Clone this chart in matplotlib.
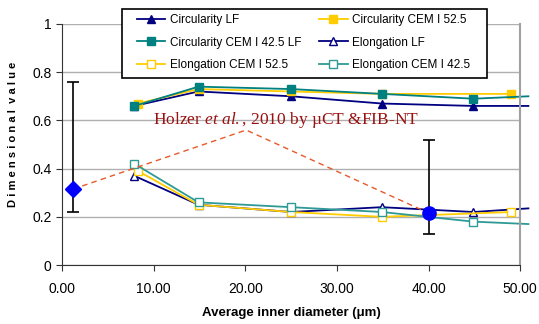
import matplotlib
matplotlib.use("Agg")
import matplotlib.pyplot as plt
from matplotlib.patches import Rectangle
from matplotlib.ticker import FormatStrFormatter

plt.rcParams["mathtext.fontset"] = "custom"
plt.rcParams["mathtext.rm"] = "Liberation Serif"
plt.rcParams["mathtext.it"] = "Liberation Serif:italic"

# Data (x = average inner diameter in um)
x_lf = [7.9, 14.9, 25.0, 34.9, 44.9, 50.9]
circ_lf = [0.66, 0.72, 0.70, 0.67, 0.66, 0.66]
elong_lf = [0.37, 0.25, 0.22, 0.24, 0.22, 0.235]

x_425 = [7.9, 14.9, 25.0, 34.9, 44.9, 50.9]
circ_425 = [0.66, 0.74, 0.73, 0.71, 0.69, 0.70]
elong_425 = [0.42, 0.26, 0.24, 0.22, 0.18, 0.17]

x_525 = [8.3, 14.9, 25.0, 34.9, 49.0]
circ_525 = [0.67, 0.73, 0.72, 0.71, 0.71]
elong_525 = [0.39, 0.25, 0.22, 0.20, 0.22]

# Holzer et al. reference points
holzer_x = [1.2, 40.0]
holzer_y = [0.315, 0.216]
holzer_lo = [0.22, 0.13]
holzer_hi = [0.76, 0.52]
trend_x = [1.2, 20.1, 40.0]
trend_y = [0.315, 0.56, 0.216]

navy = "#000080"
teal = "#008080"
teal2 = "#2e9a96"
gold = "#ffcc00"

fig = plt.figure(figsize=(5.39, 3.24), dpi=100)
ax = fig.add_axes([0.115, 0.182, 0.85, 0.744])

ax.set_xlim(0, 50)
ax.set_ylim(0, 1)
ax.yaxis.grid(True, color="#b0b0b0", lw=1)
ax.set_axisbelow(True)
ax.spines["top"].set_visible(False)
ax.spines["right"].set_color("#a0a0a0")
ax.spines["right"].set_linewidth(1.5)
ax.spines["left"].set_color("#333333")
ax.spines["bottom"].set_color("#333333")

ms = 5.5
lw = 1.3
cut = slice(0, 5)
l1, = ax.plot(x_lf, circ_lf, color=navy, lw=lw, marker="^", ms=ms, mfc=navy, mec=navy,
              markevery=cut, clip_on=False, label="Circularity LF")
l2, = ax.plot(x_525, circ_525, color=gold, lw=lw, marker="s", ms=ms, mfc=gold, mec=gold,
              clip_on=False, label="Circularity CEM I 52.5")
l3, = ax.plot(x_425, circ_425, color=teal, lw=lw, marker="s", ms=ms, mfc=teal, mec=teal,
              markevery=cut, clip_on=False, label="Circularity CEM I 42.5 LF")
l4, = ax.plot(x_lf, elong_lf, color=navy, lw=lw, marker="^", ms=ms, mfc="white", mec=navy,
              markevery=cut, clip_on=False, label="Elongation LF")
l5, = ax.plot(x_525, elong_525, color=gold, lw=lw, marker="s", ms=ms, mfc="white", mec=gold,
              clip_on=False, label="Elongation CEM I 52.5")
l6, = ax.plot(x_425, elong_425, color=teal2, lw=lw, marker="s", ms=ms, mfc="white", mec=teal2,
              markevery=cut, clip_on=False, label="Elongation CEM I 42.5")

# Holzer trend and points
ax.plot(trend_x, trend_y, color="#e8582a", lw=1, ls=(0, (4, 3)))
for xv, yv, lo, hi, mk, sz in zip(holzer_x, holzer_y, holzer_lo, holzer_hi, ["D", "o"], [8.5, 9.5]):
    ax.errorbar([xv], [yv], yerr=[[yv - lo], [hi - yv]], fmt="none", ecolor="black",
                elinewidth=1.2, capsize=4, capthick=1.2)
    ax.plot([xv], [yv], marker=mk, ms=sz, color="#0000ff", mec="#0000ff", zorder=5)

ax.text(9.9, 0.60, "Holzer $\\mathit{et\\ al.}$, 2010 by \u00b5CT &FIB-NT", color="#991111",
        fontsize=12.5, family="Liberation Serif", va="center", ha="left")

ax.set_xticks([0, 10, 20, 30, 40, 50])
ax.set_yticks([0, 0.2, 0.4, 0.6, 0.8, 1.0])
ax.set_yticklabels(["0", "0.2", "0.4", "0.6", "0.8", "1"])
ax.xaxis.set_major_formatter(FormatStrFormatter("%.2f"))
ax.tick_params(labelsize=10, direction="out", length=4, color="#333333")
ax.tick_params(axis="x", pad=8)
for t in ax.get_xticklabels() + ax.get_yticklabels():
    t.set_family("Liberation Sans")

ax.set_xlabel("Average inner diameter (\u03bcm)", fontsize=9.5, fontweight="bold",
              family="Liberation Sans", labelpad=8)
ax.set_ylabel("D i m e n s i o n a l  v a l u e", fontsize=8, fontweight="bold",
              family="Liberation Sans")
ax.yaxis.set_label_coords(-0.096, 0.54)

# legend box drawn at the reference's place, entries on top of it
W, H = 539.0, 324.0
fig.patches.append(Rectangle((122 / W, (H - 78) / H), 365 / W, 69 / H, transform=fig.transFigure,
                             facecolor="white", edgecolor="black", lw=1.2, zorder=2))
leg = fig.legend(handles=[l1, l3, l5, l2, l4, l6], ncol=2, loc="upper left",
                 bbox_to_anchor=(137 / W, (H - 14) / H), frameon=False,
                 prop={"family": "Liberation Sans", "size": 8.5}, handlelength=2.4,
                 handletextpad=0.4, columnspacing=1.5, borderpad=0, borderaxespad=0,
                 labelspacing=0.9)
leg.set_zorder(3)

fig.savefig("out.png", dpi=100)
